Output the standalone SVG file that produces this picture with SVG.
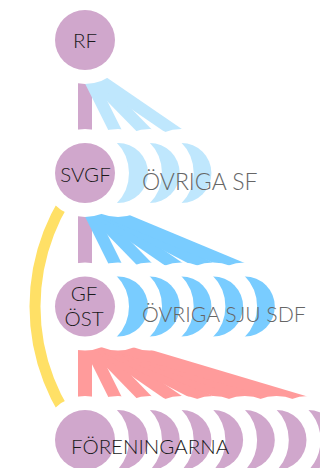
<svg xmlns="http://www.w3.org/2000/svg" width="320" height="468" viewBox="0 0 320 468">
<style>
.halo{stroke:#fff;stroke-width:28;paint-order:stroke}
.node{fill:#d0a7cc}
.lb{fill:#bfe7fd}
.bl{fill:#79ccff}
.pu{fill:#d0a7cc}
.lnk{fill:none;stroke-linecap:butt}
.fa{stroke:#bfe7fd;stroke-width:12}
.fb{stroke:#79ccff;stroke-width:12}
.fc{stroke:#ff9b9b;stroke-width:12}
.bar{stroke-width:14}
.t{font-family:Lato,"Open Sans",sans-serif;font-weight:300;font-size:20.5px;fill:#1a1a1a}
.g{font-family:Lato,"Open Sans",sans-serif;font-weight:300;fill:#666}
</style>
<rect width="320" height="468" fill="#fff"/>
<g id="connectors">
<path class="lnk" d="M85,173 A203.2,203.2 0 0 0 85,440" stroke="#ffe066" stroke-width="11"/>
<line class="lnk bar" x1="85" y1="40" x2="85" y2="173" stroke="#d0a7cc"/>
<line class="lnk fa" x1="85" y1="70" x2="118" y2="136"/>
<line class="lnk fa" x1="85" y1="70" x2="149.7" y2="136"/>
<line class="lnk fa" x1="85" y1="70" x2="181.4" y2="136"/>
<line class="lnk bar" x1="85" y1="173" x2="85" y2="306.5" stroke="#d0a7cc"/>
<line class="lnk fb" x1="85" y1="203" x2="118" y2="269.5"/>
<line class="lnk fb" x1="85" y1="203" x2="149.7" y2="269.5"/>
<line class="lnk fb" x1="85" y1="203" x2="181.4" y2="269.5"/>
<line class="lnk fb" x1="85" y1="203" x2="213.1" y2="269.5"/>
<line class="lnk fb" x1="85" y1="203" x2="244.8" y2="269.5"/>
<line class="lnk bar" x1="85" y1="306.5" x2="85" y2="440" stroke="#ff9b9b"/>
<line class="lnk fc" x1="85" y1="336.5" x2="118" y2="403"/>
<line class="lnk fc" x1="85" y1="336.5" x2="149.7" y2="403"/>
<line class="lnk fc" x1="85" y1="336.5" x2="181.4" y2="403"/>
<line class="lnk fc" x1="85" y1="336.5" x2="213.1" y2="403"/>
<line class="lnk fc" x1="85" y1="336.5" x2="244.8" y2="403"/>
<line class="lnk fc" x1="85" y1="336.5" x2="276.5" y2="403"/>
<line class="lnk fc" x1="85" y1="336.5" x2="308.2" y2="403"/>
</g>
<g id="rf">
<circle class="node halo" cx="85" cy="40" r="30"/>
<text class="t" x="85" y="48" text-anchor="middle">RF</text>
</g>
<g id="ovriga-sf">
<circle class="lb halo" cx="181.4" cy="173" r="30"/>
<circle class="lb halo" cx="149.7" cy="173" r="30"/>
<circle class="lb halo" cx="118" cy="173" r="30"/>
</g>
<g id="svgf">
<circle class="node halo" cx="85" cy="173" r="30"/>
<text class="t" x="85.5" y="181.5" text-anchor="middle">SVGF</text>
</g>
<g id="ovriga-sju-sdf">
<circle class="bl halo" cx="244.8" cy="306.5" r="30"/>
<circle class="bl halo" cx="213.1" cy="306.5" r="30"/>
<circle class="bl halo" cx="181.4" cy="306.5" r="30"/>
<circle class="bl halo" cx="149.7" cy="306.5" r="30"/>
<circle class="bl halo" cx="118" cy="306.5" r="30"/>
</g>
<g id="gf-ost">
<circle class="node halo" cx="85" cy="306.5" r="30"/>
<text class="t" x="84" y="300.5" text-anchor="middle">GF</text>
<text class="t" x="84" y="326" text-anchor="middle">ÖST</text>
</g>
<g id="foreningarna-shadows">
<circle class="pu halo" cx="308.2" cy="440" r="30"/>
<circle class="pu halo" cx="276.5" cy="440" r="30"/>
<circle class="pu halo" cx="244.8" cy="440" r="30"/>
<circle class="pu halo" cx="213.1" cy="440" r="30"/>
<circle class="pu halo" cx="181.4" cy="440" r="30"/>
<circle class="pu halo" cx="149.7" cy="440" r="30"/>
<circle class="pu halo" cx="118" cy="440" r="30"/>
</g>
<g id="foreningarna">
<circle class="node halo" cx="85" cy="440" r="30"/>
<text class="t" x="71" y="454">FÖRENINGARNA</text>
</g>
<g id="labels">
<text class="g" x="142" y="189.5" font-size="23">ÖVRIGA SF</text>
<text class="g" x="142" y="321.5" font-size="21.2">ÖVRIGA SJU SDF</text>
</g>
</svg>
